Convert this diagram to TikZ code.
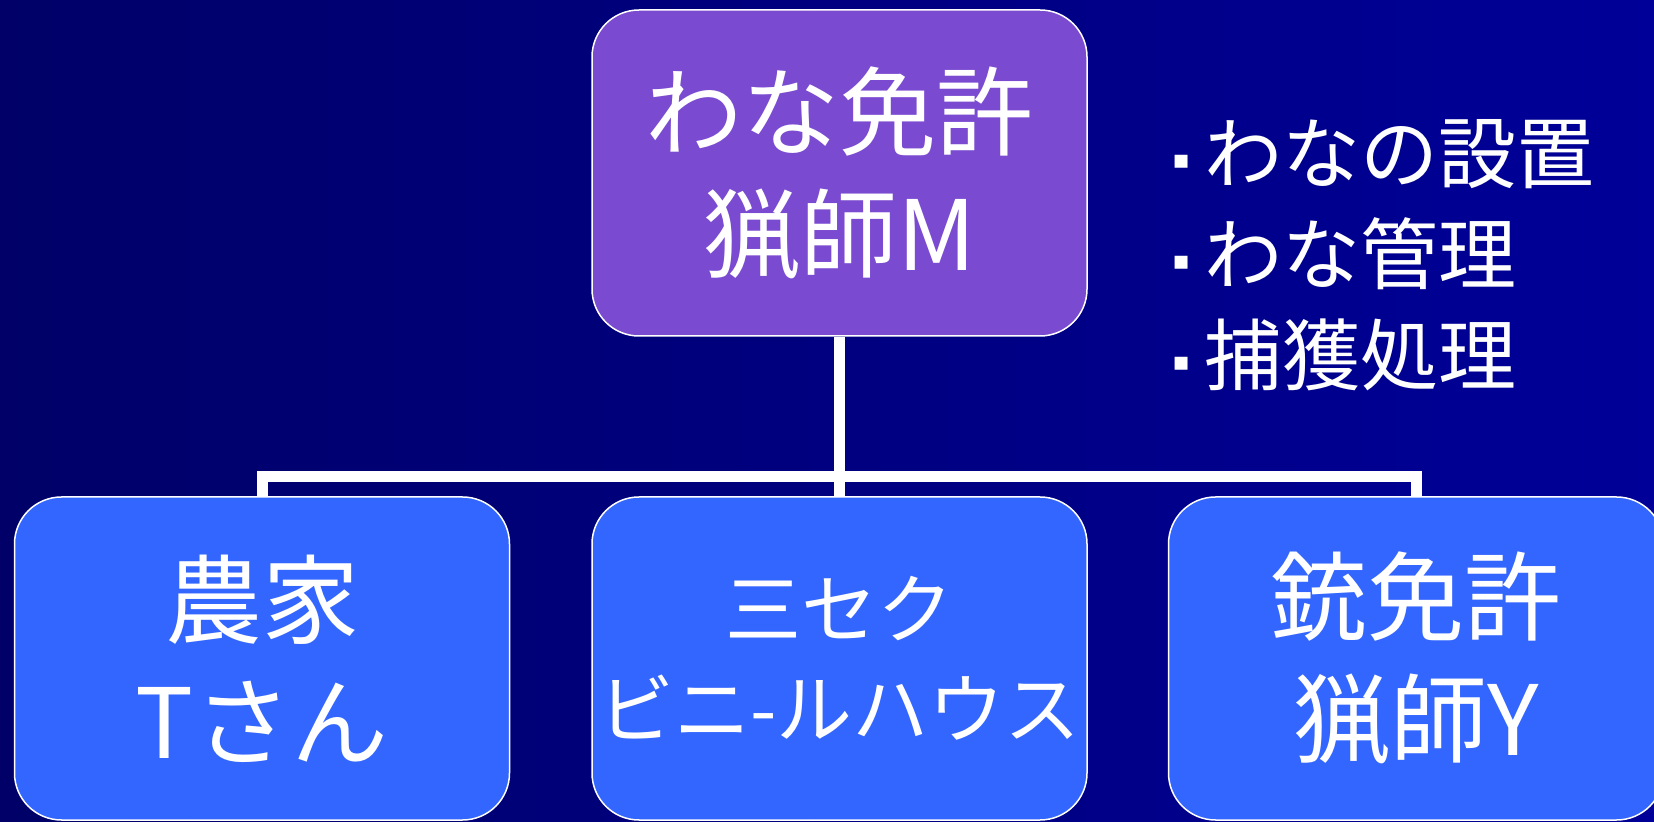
\documentclass[tikz,border=0pt]{standalone}
\usepackage{fontspec}
\setmainfont{Noto Sans CJK JP}
\newfontfamily\symfont{DejaVu Sans}
\usepackage{xcolor}
\definecolor{navy}{RGB}{0,0,104}
\definecolor{navylight}{RGB}{0,0,152}
\definecolor{lilac}{RGB}{122,74,208}
\definecolor{azure}{RGB}{51,102,255}
\usepackage{tikz}
\usetikzlibrary{positioning}
\newcommand{\dutymark}{\raisebox{7pt}{\symfont\fontsize{13}{13}\selectfont ▪}\hspace{7pt}}

\begin{document}
\begin{tikzpicture}[x=0.5pt,y=-0.5pt,
  post/.style={shape=rectangle,rounded corners=23.5pt,draw=white,line width=0.75pt,text=white,align=center,minimum width=247.5pt,minimum height=161.5pt,inner sep=0pt},
  big/.style={font=\fontsize{48.5}{61}\selectfont},
  link/.style={draw=white,line width=5.5pt}]
\useasboundingbox (0,0) rectangle (1654,822);
\clip (0,0) rectangle (1654,822);
\shade[left color=navy,right color=navylight] (0,0) rectangle (1654,822);

\node (trapper) at (839.5,173) [post,big,fill=lilac,minimum height=163pt] {わな免許\\猟師M};
\node (farmer) at (262,658.5) [post,big,fill=azure] {農家\\Tさん};
\node (house) at (839.5,658.5) [post,fill=azure,font=\fontsize{38}{50}\selectfont] {三セク\\ビニ-ルハウス};
\node (gunner) at (1416,658.5) [post,big,fill=azure] {銃免許\\猟師Y};
\node (duties) at (1172,255) [anchor=west,align=left,text=white,inner sep=0pt,font=\fontsize{39}{50.5}\selectfont] {\dutymark わなの設置\\\dutymark わな管理\\\dutymark 捕獲処理};

\draw[link] (trapper.south) -- (house.north);
\draw[link] (farmer.north) -- ++(0,-20) -| (gunner.north);
\end{tikzpicture}
\end{document}
